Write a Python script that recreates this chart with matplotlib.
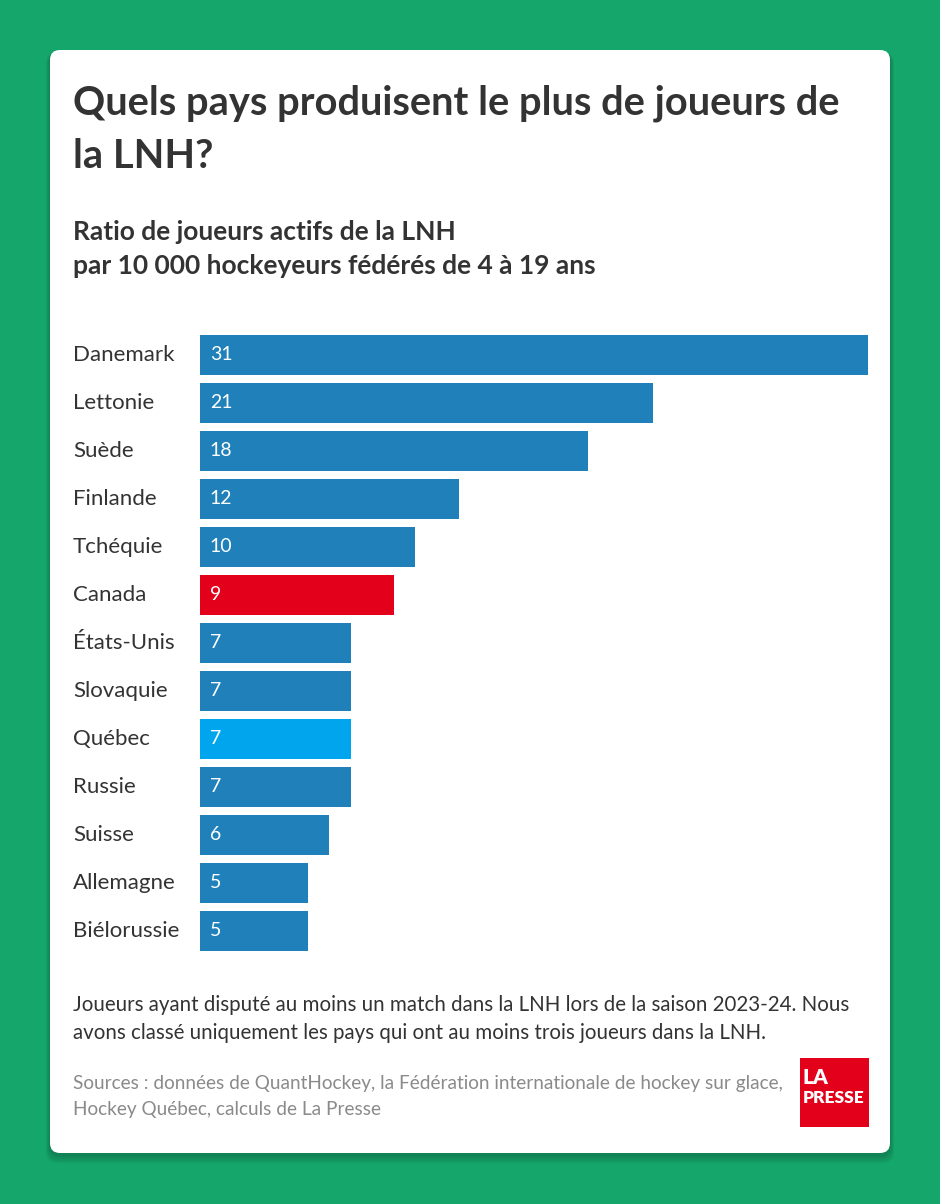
import matplotlib
matplotlib.use("Agg")
import matplotlib.pyplot as plt
from matplotlib.patches import FancyBboxPatch, Rectangle

plt.rcParams['font.family'] = ['Lato', 'DejaVu Sans']

# données
pays = ["Danemark", "Lettonie", "Suède", "Finlande", "Tchéquie", "Canada",
        "États-Unis", "Slovaquie", "Québec", "Russie", "Suisse", "Allemagne",
        "Biélorussie"]
ratio = [31, 21, 18, 12, 10, 9, 7, 7, 7, 7, 6, 5, 5]

BLEU = "#2080b9"
couleurs = [BLEU] * len(pays)
couleurs[pays.index("Canada")] = "#e2001a"
couleurs[pays.index("Québec")] = "#00a5ee"

W, H = 940, 1204
fig = plt.figure(figsize=(W / 100, H / 100), dpi=100)
fig.patch.set_facecolor("#15a66b")

# fond : coordonnées en pixels
bg = fig.add_axes([0, 0, 1, 1])
bg.set_xlim(0, W)
bg.set_ylim(H, 0)
bg.axis("off")

# ombre douce sous la carte
for k in range(4):
    d = 2 + 2 * k
    bg.add_patch(FancyBboxPatch((50 - d / 2, 52), 840 + d, 1103 + d,
                                boxstyle="round,pad=0,rounding_size=12",
                                fc="black", ec="none", alpha=0.05))
card = FancyBboxPatch((50, 50), 840, 1103, boxstyle="round,pad=0,rounding_size=10",
                      fc="white", ec="none")
bg.add_patch(card)

TXT = "#333333"
bg.text(73, 103, "Quels pays produisent le plus de joueurs de", fontsize=28.7,
        fontweight="bold", color=TXT, va="center")
bg.text(73, 156, "la LNH?", fontsize=28.7, fontweight="bold", color=TXT, va="center")
bg.text(73, 232, "Ratio de joueurs actifs de la LNH", fontsize=19,
        fontweight="bold", color=TXT, va="center")
bg.text(73, 266, "par 10 000 hockeyeurs fédérés de 4 à 19 ans", fontsize=19,
        fontweight="bold", color=TXT, va="center")

bg.text(73, 1005, "Joueurs ayant disputé au moins un match dans la LNH lors de la saison 2023-24. Nous",
        fontsize=14.8, color=TXT, va="center")
bg.text(73, 1033, "avons classé uniquement les pays qui ont au moins trois joueurs dans la LNH.",
        fontsize=14.8, color=TXT, va="center")
bg.text(73, 1083, "Sources : données de QuantHockey, la Fédération internationale de hockey sur glace,",
        fontsize=13.7, color="#8a8a8a", va="center")
bg.text(73, 1109, "Hockey Québec, calculs de La Presse",
        fontsize=13.7, color="#8a8a8a", va="center")

# logo
bg.add_patch(Rectangle((800, 1058), 69, 69, fc="#e2001a", ec="none"))
bg.text(803, 1077, "LA", fontsize=15, fontweight="heavy", color="white", va="center")
bg.text(803, 1098, "PRESSE", fontsize=12.5, fontweight="heavy", color="white", va="center")

# barres
top, bottom = 331, 955
ax = fig.add_axes([200 / W, 1 - bottom / H, 668 / W, (bottom - top) / H])
ax.set_facecolor("none")
y = list(range(len(pays)))
ax.barh(y, ratio, height=40 / 48, color=couleurs)
ax.set_xlim(0, 31)
ax.set_ylim(len(pays) - 0.5, -0.5)
ax.axis("off")

for i, (p, v) in enumerate(zip(pays, ratio)):
    ax.text(0.45, i, str(v), color="white", fontsize=14, va="center", ha="left")
    bg.text(73, top + 24 + 48 * i, p, color=TXT, fontsize=16, va="center", ha="left")

fig.savefig("out.png", dpi=100, facecolor=fig.get_facecolor())
